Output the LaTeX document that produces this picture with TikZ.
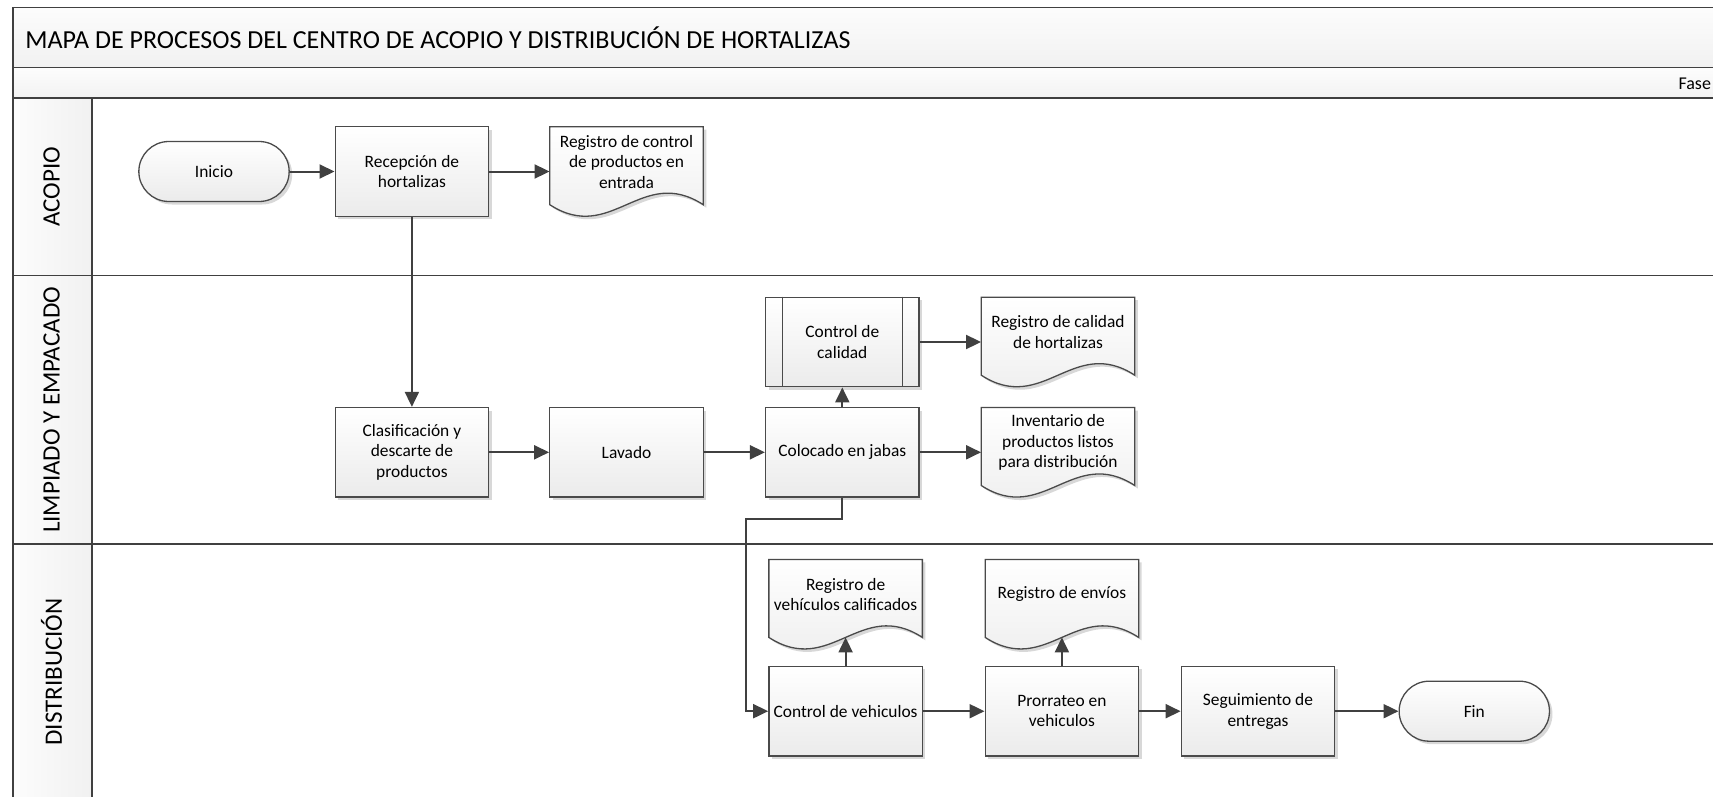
\documentclass[tikz,border=0pt]{standalone}
\usepackage{fontspec}
\setmainfont{Carlito}
\usetikzlibrary{arrows.meta,shapes.misc,shadows,calc}
\definecolor{ln}{HTML}{404040}
\definecolor{bd}{HTML}{4A4A4A}
\definecolor{fillb}{HTML}{EBEBEB}
\tikzset{
  every node/.style={font=\fontsize{17.4}{20.5}\selectfont, text=black},
  boxshadow/.style={drop shadow={shadow xshift=3pt,shadow yshift=-3pt,opacity=0.22,fill=black!70}},
  procbox/.style={rectangle, draw=bd, line width=1.3pt, minimum width=153.5pt, minimum height=89.6pt,
    top color=white, bottom color=fillb, boxshadow, align=center, inner sep=2pt},
  termbox/.style={rounded rectangle, draw=bd, line width=1.3pt, minimum width=157pt, minimum height=60pt,
    top color=white, bottom color=fillb, boxshadow, align=center},
  docbody/.style={draw=bd, line width=1.3pt, top color=white, bottom color=fillb, boxshadow},
  ghost/.style={rectangle, minimum width=153.5pt, minimum height=89.6pt, inner sep=0pt},
  doclabel/.style={align=center, inner sep=0pt},
  flow/.style={draw=ln, line width=2pt, -{Triangle[length=15pt,width=14pt]}},
  frameline/.style={draw=ln, line width=1.6pt},
  lanelabel/.style={font=\fontsize{25}{30}\selectfont, rotate=90},
}
\newcommand\docnode[4]{%
  \path[docbody] (#2-76.75,#3) -- (#2+76.75,#3) -- (#2+76.75,#3+78)
    .. controls (#2+15,#3+38) and (#2-15,#3+118) .. (#2-76.75,#3+78)
    coordinate[pos=0.5] (#1-w) -- cycle;
  \node[ghost] (#1) at (#2,#3+44.8) {};
  \node[doclabel] (#1-t) at (#2,#3+35) {#4};
}
\begin{document}
\begin{tikzpicture}[x=1pt,y=-1pt]
\useasboundingbox (0,0) rectangle (1713,797);
% bands
\path[top color=gray!2, bottom color=gray!11] (13,7.5) rectangle (1725,67.7);
\path[top color=gray!2, bottom color=gray!10] (13,67.7) rectangle (1725,98.3);
\path[left color=gray!2, right color=gray!11] (13,98.3) rectangle (91.8,810);
% frame lines
\draw[frameline] (1725,7.5) -- (13,7.5) -- (13,810);
\draw[frameline] (13,67.7) -- (1725,67.7);
\draw[frameline] (13,98.3) -- (1725,98.3);
\draw[frameline] (91.8,98.3) -- (91.8,810);
\draw[frameline] (13,275.3) -- (1725,275.3);
\draw[frameline] (13,544.1) -- (1725,544.1);
% texts of frame
\node[anchor=west, font=\fontsize{26}{30}\selectfont] (title) at (21.8,37.5)
  {MAPA DE PROCESOS DEL CENTRO DE ACOPIO Y DISTRIBUCIÓN DE HORTALIZAS};
\node[anchor=east, font=\fontsize{18}{21}\selectfont] (fase) at (1714.5,83.5) {Fase};
\node[lanelabel] (lane1) at (51.5,187) {ACOPIO};
\node[lanelabel] (lane2) at (51.5,410) {LIMPIADO Y EMPACADO};
\node[lanelabel] (lane3) at (51.5,672) {DISTRIBUCIÓN};
% nodes
\node[termbox] (ini) at (214,171.5) {Inicio};
\node[procbox] (rec) at (411.9,171.5) {Recepción de\\hortalizas};
\docnode{rc}{626.5}{126.7}{Registro de control\\de productos en\\entrada}
\node[procbox] (cc) at (842.3,342) {Control de\\calidad};
\draw[draw=bd, line width=1.3pt] ([xshift=17.5pt]cc.north west) -- ([xshift=17.5pt]cc.south west);
\draw[draw=bd, line width=1.3pt] ([xshift=-17.5pt]cc.north east) -- ([xshift=-17.5pt]cc.south east);
\docnode{rq}{1058}{297.2}{Registro de calidad\\de hortalizas}
\node[procbox] (cla) at (411.9,452.3) {Clasificación y\\descarte de\\productos};
\node[procbox] (lav) at (626.5,452.3) {Lavado};
\node[procbox] (col) at (842.3,452.3) {Colocado en jabas};
\docnode{inv}{1058}{407.5}{Inventario de\\productos listos\\para distribución}
\docnode{rv}{845.6}{559.4}{Registro de\\vehículos calificados}
\docnode{re}{1061.9}{559.4}{Registro de envíos}
\node[procbox] (cv) at (845.6,711.2) {Control de vehiculos};
\node[procbox] (pro) at (1061.9,711.2) {Prorrateo en\\vehiculos};
\node[procbox] (seg) at (1258,711.2) {Seguimiento de\\entregas};
\node[termbox] (fin) at (1474.3,711.2) {Fin};
% connectors
\draw[flow] (ini.east) -- (rec.west);
\draw[flow] (rec.east) -- (rc.west);
\draw[flow] (rec.south) -- (cla.north);
\draw[flow] (cla.east) -- (lav.west);
\draw[flow] (lav.east) -- (col.west);
\draw[flow] (col.north) -- (cc.south);
\draw[flow] (cc.east) -- (rq.west);
\draw[flow] (col.east) -- (inv.west);
\coordinate (bend) at (745.7,519);
\draw[flow] (col.south) |- (bend) |- (cv.west);
\draw[flow] (cv.north) -- (rv-w);
\draw[flow] (cv.east) -- (pro.west);
\draw[flow] (pro.north) -- (re-w);
\draw[flow] (pro.east) -- (seg.west);
\draw[flow] (seg.east) -- (fin.west);
\end{tikzpicture}
\end{document}
